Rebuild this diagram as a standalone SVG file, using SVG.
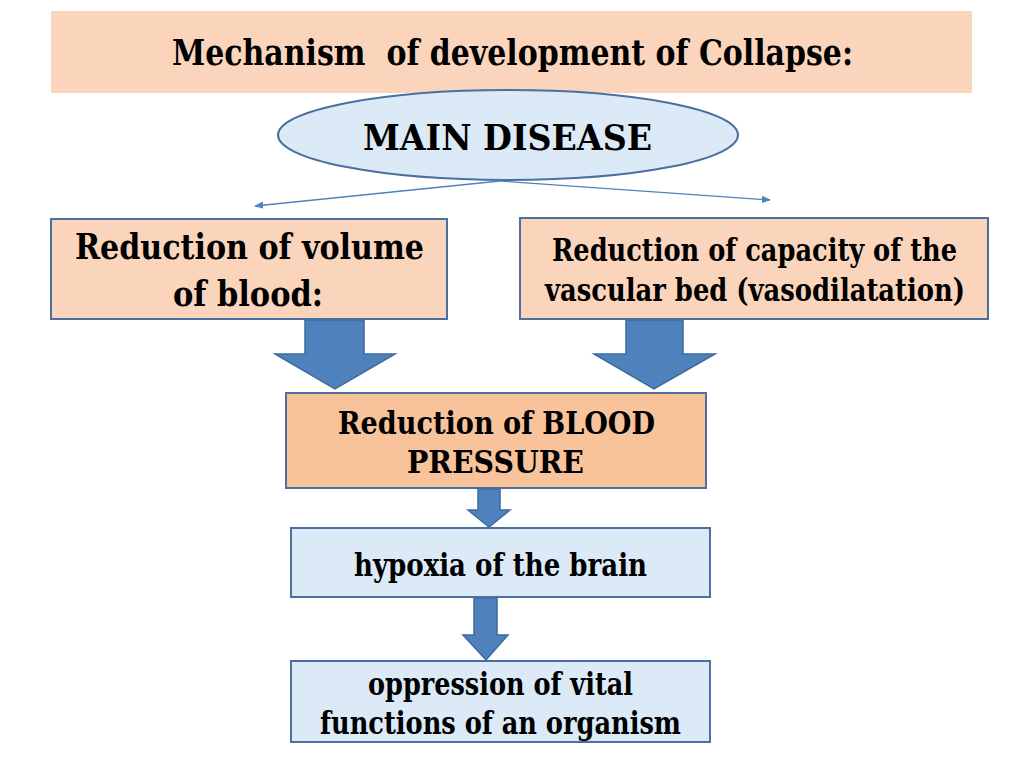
<svg xmlns="http://www.w3.org/2000/svg" width="1024" height="768" viewBox="0 0 1024 768">
<defs>
<style>
.t{font-family:'DejaVu Serif Condensed','DejaVu Serif',serif;font-stretch:condensed;font-weight:bold;fill:#000;text-anchor:middle}
.peach{fill:#fad5bc;stroke:#4a6fa0;stroke-width:2}
.orange{fill:#f8c39b;stroke:#4a6fa0;stroke-width:2}
.blue{fill:#dbeaf6;stroke:#4a6fa0;stroke-width:2}
.ba{fill:#4f81bd;stroke:#3e6a9e;stroke-width:1.5}
.thin{stroke:#4f81bd;stroke-width:1.3;fill:none}
</style>
<marker id="ah" viewBox="0 0 10 10" refX="9" refY="5" markerWidth="7" markerHeight="7" orient="auto-start-reverse">
<path d="M0,1 L10,5 L0,9 z" fill="#4f81bd"/>
</marker>
</defs>
<rect width="1024" height="768" fill="#fff"/>
<g id="title">
<rect x="51" y="11" width="921" height="82" fill="#fad5bc"/>
<text class="t" x="512.5" y="65" font-size="35" textLength="681" lengthAdjust="spacingAndGlyphs" xml:space="preserve">Mechanism  of development of Collapse:</text>
</g>
<g id="main">
<ellipse cx="508" cy="135" rx="230" ry="45" class="blue" stroke-width="2.5"/>
<text class="t" x="507.5" y="150" font-size="36" textLength="289" lengthAdjust="spacingAndGlyphs">MAIN DISEASE</text>
</g>
<g id="connectors">
<line x1="500" y1="181" x2="255" y2="206" class="thin" marker-end="url(#ah)"/>
<line x1="500" y1="181" x2="770" y2="200" class="thin" marker-end="url(#ah)"/>
<polygon class="ba" points="305,320 364,320 364,354 395,354 335,389 275,354 305,354"/>
<polygon class="ba" points="626,320 683,320 683,354 715,354 654,389 594,354 626,354"/>
<polygon class="ba" points="478,489 500,489 500,510 510,510 489,527 468,510 478,510"/>
<polygon class="ba" points="474,598 497,598 497,635 508,635 486,660 463,635 474,635"/>
</g>
<g id="volume">
<rect x="51" y="219" width="396" height="100" class="peach"/>
<text class="t" x="249.5" y="259" font-size="36" textLength="349" lengthAdjust="spacingAndGlyphs">Reduction of volume</text>
<text class="t" x="248" y="306" font-size="36" textLength="150" lengthAdjust="spacingAndGlyphs">of blood:</text>
</g>
<g id="capacity">
<rect x="520" y="218" width="468" height="101" class="peach"/>
<text class="t" x="754.5" y="261" font-size="31" textLength="405" lengthAdjust="spacingAndGlyphs">Reduction of capacity of the</text>
<text class="t" x="755" y="301" font-size="31" textLength="420" lengthAdjust="spacingAndGlyphs">vascular bed (vasodilatation)</text>
</g>
<g id="bp">
<rect x="286" y="393" width="420" height="95" class="orange"/>
<text class="t" x="496.5" y="434" font-size="31" textLength="317" lengthAdjust="spacingAndGlyphs">Reduction of BLOOD</text>
<text class="t" x="495.5" y="473" font-size="31" textLength="177" lengthAdjust="spacingAndGlyphs">PRESSURE</text>
</g>
<g id="hypoxia">
<rect x="291" y="528" width="419" height="69" class="blue"/>
<text class="t" x="500.5" y="576" font-size="31" textLength="293" lengthAdjust="spacingAndGlyphs">hypoxia of the brain</text>
</g>
<g id="oppression">
<rect x="291" y="661" width="419" height="81" class="blue"/>
<text class="t" x="500.5" y="695" font-size="31" textLength="265" lengthAdjust="spacingAndGlyphs">oppression of vital</text>
<text class="t" x="500.5" y="734" font-size="31" textLength="361" lengthAdjust="spacingAndGlyphs">functions of an organism</text>
</g>
</svg>
